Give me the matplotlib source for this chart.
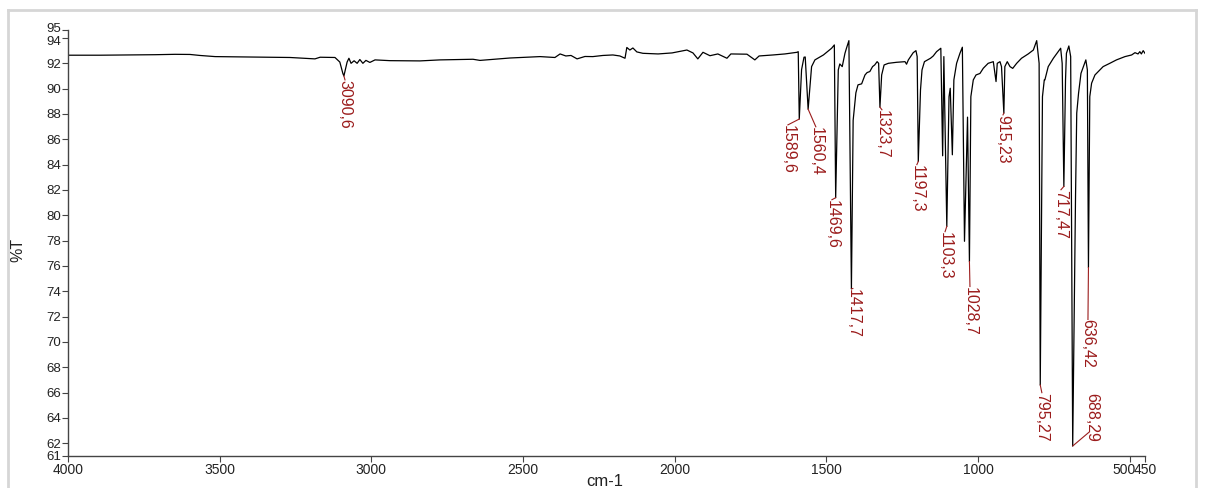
import matplotlib
matplotlib.use("Agg")
import matplotlib.pyplot as plt
from matplotlib.lines import Line2D
from matplotlib.transforms import ScaledTranslation

plt.rcParams['font.family'] = ['Liberation Sans', 'DejaVu Sans']

# spectrum (wavenumber cm-1, %T)
wavenumber = [
    4000, 3895, 3796, 3713, 3647, 3598, 3565, 3515, 3400, 3268,
    3186, 3169, 3120, 3104, 3094, 3090.6, 3080, 3074, 3067, 3057,
    3047, 3038, 3028, 3018, 3005, 2988, 2939, 2840, 2774, 2665,
    2642, 2543, 2444, 2395, 2378, 2359, 2342, 2322, 2296, 2270,
    2237, 2204, 2181, 2164, 2158, 2148, 2138, 2125, 2105, 2055,
    2009, 1960, 1940, 1924, 1907, 1884, 1858, 1828, 1815, 1762,
    1736, 1722, 1676, 1637, 1597, 1593, 1589.6, 1582, 1574, 1570,
    1560.4, 1549, 1538, 1510, 1483, 1474, 1469.6, 1461, 1456, 1448,
    1439, 1434, 1426, 1417.7, 1412, 1403, 1396, 1384, 1373, 1366,
    1357, 1348, 1341, 1333, 1328, 1323.7, 1318, 1310, 1296, 1269,
    1241, 1236, 1230, 1214, 1205, 1201, 1197.3, 1190, 1185, 1177,
    1157, 1148, 1137, 1123, 1117, 1113, 1103.3, 1096, 1092, 1085,
    1080, 1071, 1060, 1052, 1045, 1035, 1028.7, 1024, 1016, 1007,
    994, 983, 967, 950, 941, 937, 928, 923, 915.23, 912,
    904, 895, 886, 873, 857, 835, 818, 807, 799, 795.27,
    788, 782, 780, 769, 752, 736, 728, 723, 717.47, 712,
    709, 701, 695, 688.29, 679, 675, 669, 661, 653, 645,
    640, 636.42, 632, 626, 615, 604, 588, 566, 544, 516,
    494, 483, 473, 467, 462, 456, 450,
]
transmittance = [
    92.64, 92.64, 92.66, 92.68, 92.71, 92.70, 92.62, 92.53, 92.50, 92.46,
    92.35, 92.48, 92.46, 92.10, 91.20, 91.00, 92.10, 92.40, 92.00, 92.20,
    92.00, 92.30, 92.00, 92.23, 92.07, 92.27, 92.21, 92.19, 92.27, 92.32,
    92.23, 92.42, 92.53, 92.46, 92.74, 92.58, 92.62, 92.35, 92.54, 92.53,
    92.62, 92.66, 92.58, 92.40, 93.25, 93.05, 93.21, 92.90, 92.79, 92.74,
    92.82, 93.05, 92.82, 92.35, 92.87, 92.60, 92.74, 92.40, 92.74, 92.72,
    92.27, 92.58, 92.66, 92.74, 92.87, 92.92, 87.60, 91.50, 92.48, 92.50,
    88.38, 91.74, 92.27, 92.66, 93.19, 93.45, 81.39, 91.48, 91.95, 91.74,
    92.79, 93.19, 93.79, 74.20, 87.50, 89.67, 90.30, 90.38, 91.08, 91.27,
    91.35, 91.74, 91.87, 92.13, 92.00, 88.54, 91.08, 91.87, 92.00, 92.08,
    92.13, 91.93, 92.27, 92.84, 93.00, 92.53, 84.25, 89.90, 91.48, 92.13,
    92.40, 92.58, 92.92, 93.19, 84.70, 92.53, 79.13, 89.37, 90.03, 84.78,
    90.69, 92.00, 92.79, 93.27, 77.95, 87.75, 76.35, 89.37, 90.69, 91.08,
    91.20, 91.61, 92.00, 92.13, 90.56, 92.00, 92.13, 91.74, 88.07, 91.74,
    92.13, 91.74, 91.60, 92.00, 92.40, 92.74, 93.05, 93.79, 92.00, 66.60,
    89.37, 90.69, 90.69, 91.74, 92.40, 92.92, 93.19, 92.00, 82.28, 90.69,
    92.79, 93.37, 92.53, 61.79, 81.50, 88.07, 89.64, 91.21, 91.74, 92.27,
    91.48, 75.87, 89.37, 90.43, 91.08, 91.35, 91.74, 92.00, 92.27, 92.53,
    92.66, 92.84, 92.74, 92.92, 92.74, 93.00, 92.79,
]

# labelled peaks
peak_wn = [3090.6, 1589.6, 1560.4, 1469.6, 1417.7, 1323.7, 1197.3,
           1103.3, 1028.7, 915.23, 795.27, 717.47, 688.29, 636.42]
peak_t = [91.00, 87.60, 88.38, 81.39, 74.20, 88.54, 84.25,
          79.13, 76.35, 88.07, 66.60, 82.28, 61.79, 75.87]
peak_labels = ['3090,6', '1589,6', '1560,4', '1469,6', '1417,7', '1323,7', '1197,3',
               '1103,3', '1028,7', '915,23', '795,27', '717,47', '688,29', '636,42']
# where each label sits (wavenumber, %T of its top end)
label_pos = [(3087, 90.69), (1627, 87.14), (1535, 86.99), (1482, 81.23),
             (1413, 74.22), (1317, 88.33), (1202, 84.00), (1109, 78.71),
             (1027, 74.38), (918, 87.93), (790, 66.00), (727, 82.02),
             (625, 65.95), (638, 71.78)]
# where each leader line ends
leader_end = [(3087, 90.69), (1627, 87.14), (1535, 86.99), (1482, 81.23),
              (1413, 74.22), (1317, 88.33), (1202, 84.00), (1109, 78.71),
              (1027, 74.38), (918, 87.93), (790, 66.00), (727, 82.02),
              (635, 62.87), (638, 71.78)]

x_ticks = [4000, 3500, 3000, 2500, 2000, 1500, 1000, 500, 450]
y_ticks = [61, 62, 64, 66, 68, 70, 72, 74, 76, 78, 80, 82, 84, 86, 88, 90, 92, 94, 94.63]
y_ticklabels = ['61', '62', '64', '66', '68', '70', '72', '74', '76', '78', '80',
                '82', '84', '86', '88', '90', '92', '94', '95']

red = '#9b1c1c'
W, H = 1207, 488
fig = plt.figure(figsize=(W / 100, H / 100), dpi=100)
ax = fig.add_axes([68 / W, 1 - 456 / H, (1145 - 68) / W, (456 - 30) / H])

ax.plot(wavenumber, transmittance, color='black', lw=0.9)

for wn, t, lab, (lx, ly), (ex, ey) in zip(peak_wn, peak_t, peak_labels, label_pos, leader_end):
    ax.plot([wn, ex], [t, ey], color=red, lw=0.8)
    ax.text(lx, ly, lab, rotation=270, ha='center', va='top',
            color=red, fontsize=11.5)

ax.set_xlim(4000, 450)
ax.set_ylim(61, 94.63)
ax.set_xticks(x_ticks)
ax.set_xticklabels([str(v) for v in x_ticks])
ax.set_yticks(y_ticks)
ax.set_yticklabels(y_ticklabels)

for s in ['top', 'right']:
    ax.spines[s].set_visible(False)
for s in ['left', 'bottom']:
    ax.spines[s].set_color('#444444')
    ax.spines[s].set_linewidth(1.0)
ax.tick_params(axis='both', direction='out', length=4, width=0.8,
               color='#444444', labelsize=10, labelcolor='#222222', pad=1)
ax.tick_params(axis='y', labelsize=9.5)

# keep "500" and "450" apart like the original
lbl500 = ax.get_xticklabels()[-2]
lbl500.set_horizontalalignment('right')
lbl500.set_transform(lbl500.get_transform() + ScaledTranslation(4 / 72, 0, fig.dpi_scale_trans))

# nudge the stacked top labels apart a little
ylabs = ax.get_yticklabels()
ylabs[-1].set_transform(ylabs[-1].get_transform() + ScaledTranslation(0, 1.5 / 72, fig.dpi_scale_trans))
ylabs[-2].set_transform(ylabs[-2].get_transform() + ScaledTranslation(0, -1.5 / 72, fig.dpi_scale_trans))

fig.text(18 / W, 1 - 250 / H, '%T', rotation=90, ha='center', va='center', fontsize=11.5, color='#222222')
fig.text(605 / W, 1 - 481 / H, 'cm-1', ha='center', va='center', fontsize=12, color='#222222')

# light frame around the figure
frame = '#d6d6d6'
fig.add_artist(Line2D([8 / W, 8 / W], [0, 1 - 10 / H], color=frame, lw=2))
fig.add_artist(Line2D([8 / W, 1196 / W], [1 - 10 / H, 1 - 10 / H], color=frame, lw=2))
fig.add_artist(Line2D([1196 / W, 1196 / W], [0, 1 - 10 / H], color=frame, lw=2))

fig.savefig('out.png', dpi=100)
